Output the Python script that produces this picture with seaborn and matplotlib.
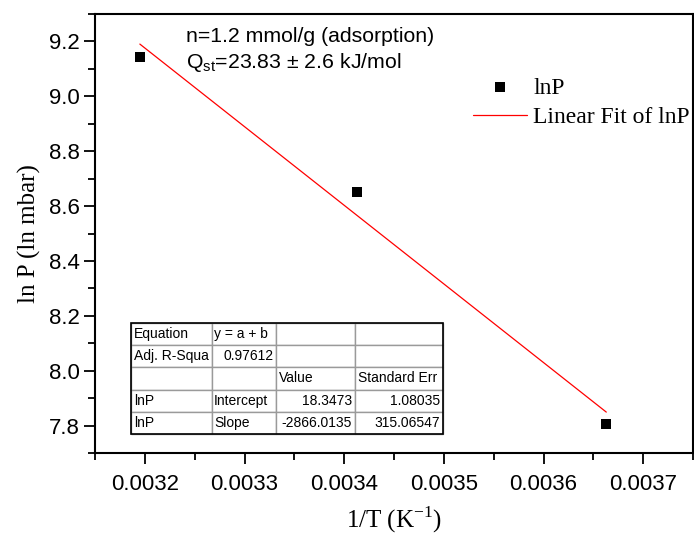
import numpy as np
import pandas as pd
import matplotlib
matplotlib.use("Agg")
import matplotlib.pyplot as plt
import matplotlib.transforms as mtransforms
import seaborn as sns
from matplotlib.table import Table
from matplotlib.ticker import MultipleLocator

# Measured points: inverse temperature vs. ln of pressure
inv_T = [0.003195, 0.003413, 0.003663]
ln_P = [9.145, 8.650, 7.806]

# Linear fit results
fit_intercept = 18.3473
fit_slope = -2866.0135
fit_intercept_err = 1.08035
fit_slope_err = 315.06547
adj_r2 = 0.97612

x_ticks = [0.0032, 0.0033, 0.0034, 0.0035, 0.0036, 0.0037]
y_ticks = [7.8, 8.0, 8.2, 8.4, 8.6, 8.8, 9.0, 9.2]

sns.set_theme(style="ticks")
plt.rcParams["font.family"] = ["Liberation Sans", "DejaVu Sans"]
plt.rcParams["text.color"] = "black"
plt.rcParams["axes.labelcolor"] = "black"
plt.rcParams["xtick.color"] = "black"
plt.rcParams["ytick.color"] = "black"

fig = plt.figure(figsize=(6.94, 5.38), dpi=100)
ax = fig.add_axes([95 / 694, 1 - 453 / 538, 598 / 694, 439 / 538])

pts = pd.DataFrame({"x": inv_T, "y": ln_P})
fit_x = np.array([inv_T[0], inv_T[-1]])
fit = pd.DataFrame({"x": fit_x, "y": fit_intercept + fit_slope * fit_x})

sns.scatterplot(data=pts, x="x", y="y", marker="s", s=55, color="black",
                edgecolor="black", linewidth=0, ax=ax, label="lnP", zorder=3)
sns.lineplot(data=fit, x="x", y="y", color="red", lw=0.9, ax=ax,
             label="Linear Fit of lnP")

ax.set_xlim(0.00315, 0.00375)
ax.set_ylim(7.7, 9.3)
ax.set_xticks(x_ticks)
ax.set_xticklabels([f"{v:.4f}" for v in x_ticks])
ax.set_yticks(y_ticks)
ax.set_yticklabels([f"{v:.1f}" for v in y_ticks])
ax.xaxis.set_minor_locator(MultipleLocator(0.00005))
ax.yaxis.set_minor_locator(MultipleLocator(0.1))
ax.tick_params(which="major", direction="out", length=8, width=1.3,
               labelsize=16, colors="black")
ax.tick_params(axis="x", which="major", pad=7)
ax.tick_params(axis="y", which="major", pad=3)
ax.tick_params(which="minor", direction="out", length=5, width=1.3)
ax.tick_params(top=False, right=False, which="both")
for sp in ax.spines.values():
    sp.set_visible(True)
    sp.set_linewidth(1.5)
    sp.set_color("black")

ax.set_xlabel("1/T (K$^{\\mathregular{-1}}$)", family="Liberation Serif",
              fontsize=18, labelpad=7)
ax.set_ylabel("ln P (ln mbar)", family="Liberation Serif", fontsize=18,
              labelpad=6)

leg = ax.legend(loc="upper left", frameon=False,
                prop={"family": "Liberation Serif", "size": 17},
                handlelength=2.29, handletextpad=0.25, labelspacing=0.34,
                borderpad=0, borderaxespad=0)
leg.set_bbox_to_anchor((473, 538 - 77), transform=mtransforms.IdentityTransform())

fig.text(186 / 694, 1 - 37 / 538, "n=1.2 mmol/g (adsorption)",
         fontsize=15.3, va="center", ha="left")
fig.text(186 / 694, 1 - 62 / 538,
         "Q$_{\\mathregular{st}}$=23.83 ± 2.6 kJ/mol",
         fontsize=15.3, va="center", ha="left")

# Fit statistics table
rows = [
    [("Equation", "left"), ("y = a + b", "left"), ("", "left"), ("", "left")],
    [("Adj. R-Squa", "left"), (f"{adj_r2:.5f}", "right"), ("", "left"), ("", "left")],
    [("", "left"), ("", "left"), ("Value", "left"), ("Standard Err", "left")],
    [("lnP", "left"), ("Intercept", "left"), (f"{fit_intercept}", "right"),
     (f"{fit_intercept_err}", "right")],
    [("lnP", "left"), ("Slope", "left"), (f"{fit_slope}", "right"),
     (f"{fit_slope_err}", "right")],
]
col_w = [81, 64, 79, 88]
left = (131 - 95) / 598
bottom = (453 - 434) / 439
width = sum(col_w) / 598
height = (434 - 323) / 439
tb = Table(ax, bbox=[left, bottom, width, height])
for r, row in enumerate(rows):
    for c, (txt, loc) in enumerate(row):
        cell = tb.add_cell(r, c, width=col_w[c], height=1, text=txt, loc=loc,
                           edgecolor="#9a9a9a", facecolor="white")
        cell.PAD = 0.035
        cell.set_linewidth(1.0)
        cell.get_text().set_fontsize(10)
tb.auto_set_font_size(False)
ax.add_table(tb)
ax.add_patch(plt.Rectangle((left, bottom), width, height, transform=ax.transAxes,
                           fill=False, edgecolor="black", lw=1.2, zorder=10))

fig.savefig("out.png", dpi=100)
